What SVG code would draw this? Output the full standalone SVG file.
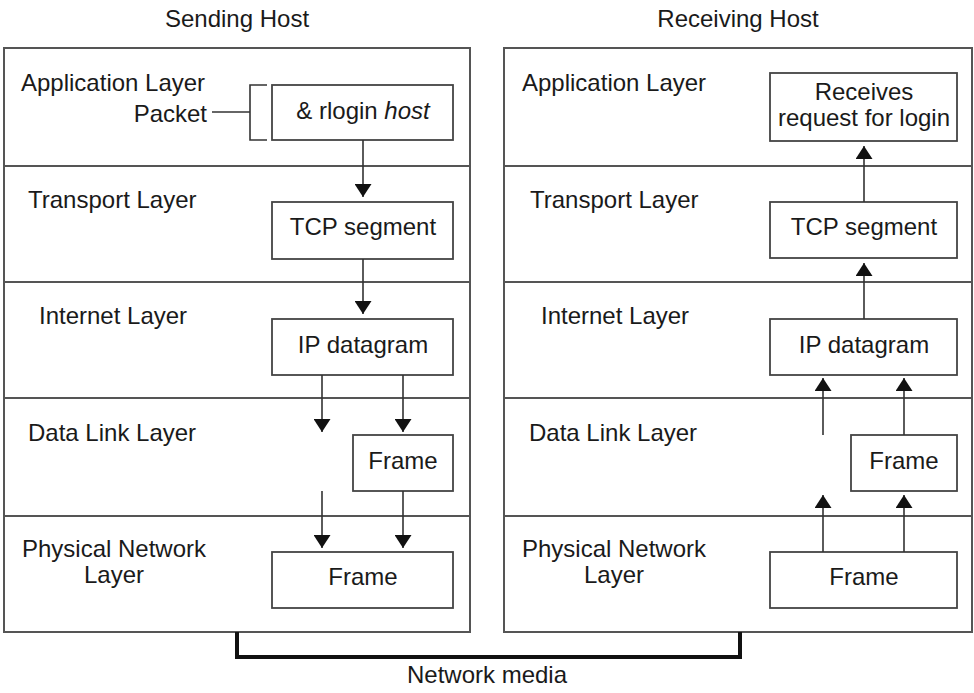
<svg xmlns="http://www.w3.org/2000/svg" width="974" height="693" viewBox="0 0 974 693">
<style>
  text{font-family:"Liberation Sans",Arial,sans-serif;font-size:24px;fill:#1a1a1a}
  .c{text-anchor:middle}
  .r{text-anchor:end}
  .host{fill:#fff;stroke:#555;stroke-width:2}
  .div{stroke:#555;stroke-width:2}
  .box{fill:#fff;stroke:#444;stroke-width:1.8}
  .ln{stroke:#333;stroke-width:1.6;fill:none}
  .arr{stroke:#333;stroke-width:1.6;fill:none;marker-end:url(#ah)}
  .media{stroke:#111;stroke-width:4;fill:none}
</style>
<defs>
  <marker id="ah" viewBox="0 0 13 17" refX="13" refY="8.5" markerWidth="13" markerHeight="17" orient="auto" markerUnits="userSpaceOnUse">
    <path d="M0,0 L13,8.5 L0,17 z" fill="#111"/>
  </marker>
</defs>
<rect width="974" height="693" fill="#fff"/>

<g id="titles">
  <text class="c" x="237" y="27">Sending Host</text>
  <text class="c" x="738" y="27">Receiving Host</text>
</g>

<g id="sending-host">
  <rect class="host" x="4" y="48" width="466" height="584"/>
  <line class="div" x1="4" y1="166" x2="470" y2="166"/>
  <line class="div" x1="4" y1="282" x2="470" y2="282"/>
  <line class="div" x1="4" y1="398" x2="470" y2="398"/>
  <line class="div" x1="4" y1="516" x2="470" y2="516"/>
  <text x="21" y="91">Application Layer</text>
  <text x="28" y="208">Transport Layer</text>
  <text x="39" y="324">Internet Layer</text>
  <text x="28" y="441">Data Link Layer</text>
  <text class="c" x="114" y="557">Physical Network</text>
  <text class="c" x="114" y="583">Layer</text>
</g>

<g id="receiving-host">
  <rect class="host" x="504" y="48" width="468" height="584"/>
  <line class="div" x1="504" y1="166" x2="972" y2="166"/>
  <line class="div" x1="504" y1="282" x2="972" y2="282"/>
  <line class="div" x1="504" y1="398" x2="972" y2="398"/>
  <line class="div" x1="504" y1="516" x2="972" y2="516"/>
  <text x="522" y="91">Application Layer</text>
  <text x="530" y="208">Transport Layer</text>
  <text x="541" y="324">Internet Layer</text>
  <text x="529" y="441">Data Link Layer</text>
  <text class="c" x="614" y="557">Physical Network</text>
  <text class="c" x="614" y="583">Layer</text>
</g>

<g id="packet-label">
  <text class="r" x="207" y="122">Packet</text>
  <line class="ln" x1="212" y1="112" x2="250" y2="112"/>
  <path class="ln" d="M267,85 H250 V140 H267"/>
</g>

<g id="s-rlogin">
  <rect class="box" x="272" y="85" width="181" height="55"/>
  <text class="c" x="363" y="119">&amp; rlogin <tspan font-style="italic">host</tspan></text>
</g>
<g id="s-tcp">
  <rect class="box" x="272" y="202" width="181" height="57"/>
  <text class="c" x="363" y="235">TCP segment</text>
</g>
<g id="s-ip">
  <rect class="box" x="272" y="319" width="181" height="56"/>
  <text class="c" x="363" y="353">IP datagram</text>
</g>
<g id="s-frame-dl">
  <rect class="box" x="353" y="435" width="100" height="56"/>
  <text class="c" x="403" y="469">Frame</text>
</g>
<g id="s-frame-ph">
  <rect class="box" x="272" y="552" width="181" height="56"/>
  <text class="c" x="363" y="585">Frame</text>
</g>

<g id="r-receives">
  <rect class="box" x="770" y="73" width="187" height="68"/>
  <text class="c" x="864" y="100">Receives</text>
  <text class="c" x="864" y="126">request for login</text>
</g>
<g id="r-tcp">
  <rect class="box" x="770" y="202" width="187" height="56"/>
  <text class="c" x="864" y="235">TCP segment</text>
</g>
<g id="r-ip">
  <rect class="box" x="770" y="319" width="187" height="56"/>
  <text class="c" x="864" y="353">IP datagram</text>
</g>
<g id="r-frame-dl">
  <rect class="box" x="851" y="435" width="106" height="56"/>
  <text class="c" x="904" y="469">Frame</text>
</g>
<g id="r-frame-ph">
  <rect class="box" x="770" y="552" width="187" height="56"/>
  <text class="c" x="864" y="585">Frame</text>
</g>

<g id="connectors">
  <line class="arr" x1="363" y1="140" x2="363" y2="197"/>
  <line class="arr" x1="363" y1="259" x2="363" y2="314"/>
  <line class="arr" x1="322" y1="375" x2="322" y2="432"/>
  <line class="arr" x1="403" y1="375" x2="403" y2="432"/>
  <line class="arr" x1="322" y1="491" x2="322" y2="548"/>
  <line class="arr" x1="403" y1="491" x2="403" y2="548"/>

  <line class="arr" x1="864" y1="202" x2="864" y2="146"/>
  <line class="arr" x1="864" y1="319" x2="864" y2="263"/>
  <line class="arr" x1="823" y1="435" x2="823" y2="378"/>
  <line class="arr" x1="904" y1="435" x2="904" y2="378"/>
  <line class="arr" x1="823" y1="552" x2="823" y2="495"/>
  <line class="arr" x1="904" y1="552" x2="904" y2="495"/>

  <path class="media" d="M237,632 V657 H740 V632"/>
</g>
<g id="network-media">
  <text class="c" x="487" y="683">Network media</text>
</g>
</svg>
